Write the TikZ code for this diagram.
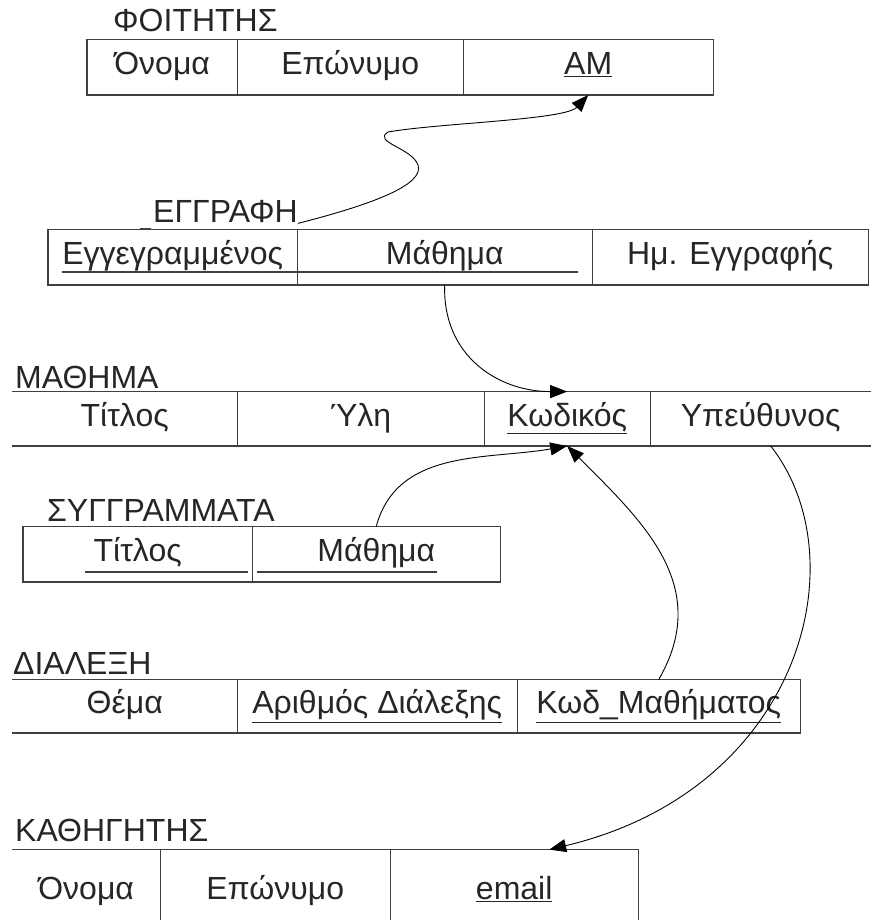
\documentclass[tikz,border=0pt]{standalone}
\usepackage{fontspec}
\setmainfont{Liberation Sans}
\usetikzlibrary{arrows.meta,positioning,calc}

\tikzset{
  cell/.style={anchor=south west, inner sep=0pt, minimum height=55pt, text height=22pt, text depth=7pt, text=black!85, font=\fontsize{32}{38}\selectfont},
  title/.style={anchor=west, inner sep=0pt, text=black!85, font=\fontsize{32}{38}\selectfont},
  rule/.style={draw=black!75, line width=1.3pt},
  link/.style={draw=black, line width=0.9pt, -{Triangle[length=17pt,width=13pt]}}
}

\begin{document}
\begin{tikzpicture}[x=1pt, y=1pt]
    \useasboundingbox (0,0) rectangle (871,920);

    % ΦΟΙΤΗΤΗΣ
    \node[title] (foititis) at (113,900) {ΦΟΙΤΗΤΗΣ};
    \node[cell, minimum width=150pt] (onoma1) at (87,825) {Όνομα};
    \node[cell, minimum width=226pt] (eponymo1) at (237,825) {Επώνυμο};
    \node[cell, minimum width=250pt] (am) at (463,825) {\underline{ΑΜ}};
    \draw[rule] (onoma1.south west) rectangle (am.north east);
    \draw[rule] (onoma1.north east) -- (onoma1.south east);
    \draw[rule] (eponymo1.north east) -- (eponymo1.south east);

    % ΕΓΓΡΑΦΗ
    \node[title] (eggrafi) at (153,708) {ΕΓΓΡΑΦΗ};
    \node[cell, minimum width=249pt] (eggr) at (48,635) {Εγγεγραμμένος};
    \node[cell, minimum width=295pt] (mathima1) at (297,635) {Μάθημα};
    \node[cell, minimum width=276pt] (hmeggr) at (592,635) {Ημ. Εγγραφής};
    \draw[rule] (eggr.south west) rectangle (hmeggr.north east);
    \draw[rule] (eggr.north east) -- (eggr.south east);
    \draw[rule] (mathima1.north east) -- (mathima1.south east);
    \draw[rule] ($(eggr.south west)+(14,13)$) -- ($(mathima1.south east)+(-14,13)$);
    \draw[rule, line width=1pt] ($(eggrafi.south west)+(-13,-5)$) -- ($(eggrafi.south west)+(-2,-5)$);

    % ΜΑΘΗΜΑ
    \node[title] (mathima) at (15,543) {ΜΑΘΗΜΑ};
    \node[cell, minimum width=225pt, minimum height=54pt] (titlos1) at (12,474) {Τίτλος};
    \node[cell, minimum width=247pt, minimum height=54pt] (yli) at (237,474) {Ύλη};
    \node[cell, minimum width=166pt, minimum height=54pt] (kodikos) at (484,474) {\underline{Κωδικός}};
    \node[cell, minimum width=221pt, minimum height=54pt] (ypeuth) at (650,474) {Υπεύθυνος};
    \draw[rule] (titlos1.north west) -- (ypeuth.north east);
    \draw[rule] (titlos1.south west) -- (ypeuth.south east);
    \draw[rule] (titlos1.north east) -- (titlos1.south east);
    \draw[rule] (yli.north east) -- (yli.south east);
    \draw[rule] (kodikos.north east) -- (kodikos.south east);

    % ΣΥΓΓΡΑΜΜΑΤΑ
    \node[title] (syggr) at (47,410) {ΣΥΓΓΡΑΜΜΑΤΑ};
    \node[cell, minimum width=229pt] (titlos2) at (23,338) {Τίτλος};
    \node[cell, minimum width=248pt] (mathima2) at (252,338) {Μάθημα};
    \draw[rule] (titlos2.south west) rectangle (mathima2.north east);
    \draw[rule] (titlos2.north east) -- (titlos2.south east);
    \draw[rule] ($(titlos2.south west)+(62,10)$) -- ($(titlos2.south east)+(-4,10)$);
    \draw[rule] ($(mathima2.south west)+(5,10)$) -- ($(mathima2.south east)+(-63,10)$);

    % ΔΙΑΛΕΞΗ
    \node[title] (dialexi) at (13,257) {ΔΙΑΛΕΞΗ};
    \node[cell, minimum width=225pt, minimum height=53pt] (thema) at (12,187) {Θέμα};
    \node[cell, minimum width=280pt, minimum height=53pt] (arithmos) at (237,187) {\underline{Αριθμός Διάλεξης}};
    \node[cell, minimum width=283pt, minimum height=53pt] (kodm) at (517,187) {\underline{Κωδ\_Μαθήματος}};
    \draw[rule] (thema.north west) -- (kodm.north east) -- (kodm.south east) -- (thema.south west);
    \draw[rule] (thema.north east) -- (thema.south east);
    \draw[rule] (arithmos.north east) -- (arithmos.south east);

    % ΚΑΘΗΓΗΤΗΣ
    \node[title] (kathigitis) at (15,90) {ΚΑΘΗΓΗΤΗΣ};
    \node[cell, minimum width=148pt, minimum height=84pt] (onoma2) at (12,-14) {Όνομα};
    \node[cell, minimum width=230pt, minimum height=84pt] (eponymo2) at (160,-14) {Επώνυμο};
    \node[cell, minimum width=248pt, minimum height=84pt] (email) at (390,-14) {\underline{email}};
    \draw[rule] (onoma2.north west) -- (email.north east) -- (email.south east);
    \draw[rule] (onoma2.north east) -- (onoma2.south east);
    \draw[rule] (eponymo2.north east) -- (eponymo2.south east);

    % references
    \draw[link] (eggrafi.south east) .. controls (370,715) and (425,735) .. (418,755)
        .. controls (412,772) and (372,778) .. (388,788)
        .. controls (440,797) and (565,800) .. (am.south);
    \draw[link] (mathima1.south) to[out=-92, in=180, looseness=1.1] (kodikos.north);
    \draw[link] (mathima2.north) to[out=75, in=190] (kodikos.south);
    \draw[link] (kodm.north) to[out=60, in=-45, looseness=1.1] (kodikos.south);
    \draw[link] ([xshift=10pt]ypeuth.south) .. controls (860,360) and (800,130) .. ([xshift=35pt]email.north);
\end{tikzpicture}
\end{document}
